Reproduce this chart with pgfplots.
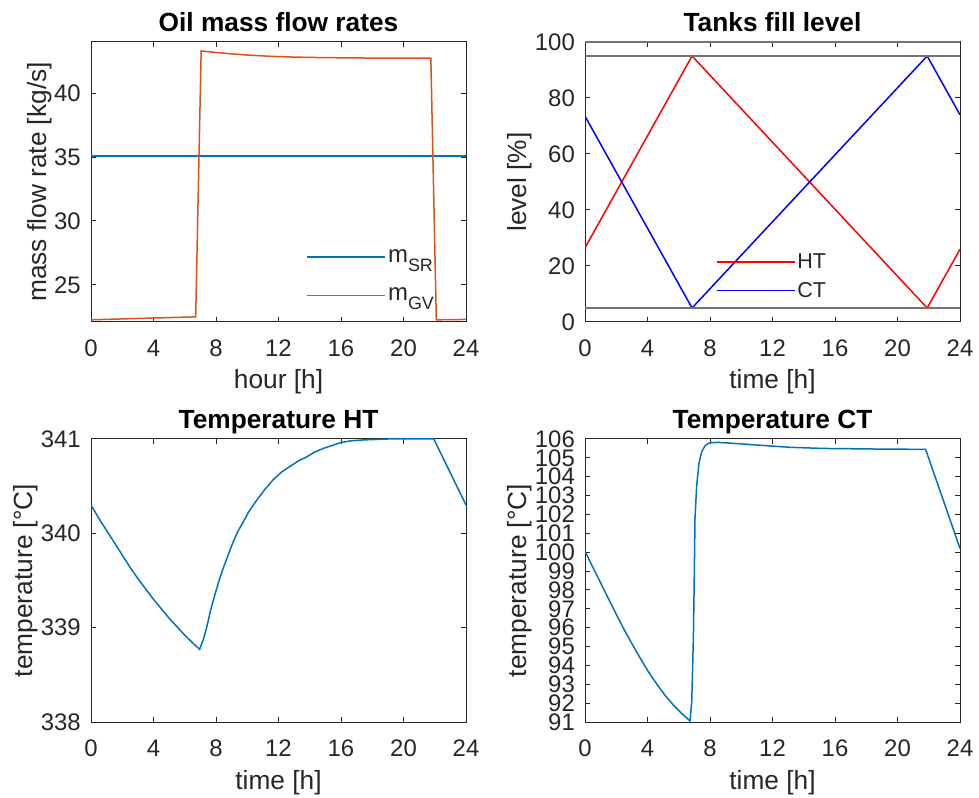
\documentclass[border=0pt]{standalone}
\usepackage{fontspec}
\setmainfont{Liberation Sans}
\usepackage{pgfplots}
\pgfplotsset{compat=1.18}
\definecolor{mblue}{rgb}{0,0.447,0.741}
\definecolor{morange}{rgb}{0.85,0.325,0.098}
\definecolor{axgray}{rgb}{0.15,0.15,0.15}
\definecolor{limgray}{rgb}{0.45,0.45,0.45}
\pgfplotsset{
  mstyle/.style={
    scale only axis,
    xmin=0, xmax=24, xtick={0,4,...,24},
    tick align=inside,
    major tick length=5bp,
    axis line style={axgray, line width=1bp},
    every tick/.style={axgray, line width=1bp},
    tick label style={font=\fontsize{24}{24}\selectfont, text=axgray},
    /pgf/number format/assume math mode=true,
    xticklabel style={anchor=north, inner sep=0pt, yshift=-18bp},
    yticklabel style={anchor=east, inner sep=0pt, xshift=-10bp},
    every axis x label/.style={at={(axis description cs:0.5,-0.237)}, anchor=base, font=\fontsize{26.4}{26.4}\selectfont, text=axgray},
    every axis title/.style={at={(axis description cs:0.5,1.037)}, anchor=base, font=\bfseries\fontsize{26.4}{26.4}\selectfont, text=black},
    legend style={draw=none, fill=none, font=\fontsize{21.6}{21.6}\selectfont, text=axgray, inner sep=0pt, outer sep=0pt},
    legend cell align=left,
    legend image code/.code={\draw[#1, line width=1.5bp] (0bp,0bp) -- (78bp,0bp);},
    every axis plot/.append style={line width=1.5bp},
  },
  ylab/.style={every axis y label/.style={at={(axis description cs:#1,0.5)}, rotate=90, anchor=base, font=\fontsize{26.4}{26.4}\selectfont, text=axgray}},
}
\newcommand{\sub}[1]{\raisebox{-9bp}{\fontsize{18}{18}\selectfont #1}}
\begin{document}
\begin{tikzpicture}
\path[use as bounding box] (0bp,0bp) rectangle (979bp,798bp);

% Top-left
\begin{axis}[mstyle, at={(91bp,476bp)}, anchor=south west, width=375bp, height=280bp,
  ymin=22.1, ymax=44, ytick={25,30,35,40},
  title={Oil mass flow rates}, xlabel={hour [h]}, ylabel={mass flow rate [kg/s]}, ylab=-0.118,
  legend style={at={(axis description cs:0.575,0.265)}, anchor=north west, row sep=20bp, font=\fontsize{24}{24}\selectfont}]
\addplot[mblue, no markers] coordinates {(0,35.1) (24,35.1)};
\addlegendentry{m\sub{SR}}
\addplot[morange, no markers] coordinates {
(0,22.27) (2,22.34) (4,22.41) (6.7,22.5) (7.05,43.3) (8,43.18) (9,43.07) (10,42.98)
(11.5,42.88) (13,42.82) (14.7,42.78) (17,42.75) (21.75,42.73) (22.1,22.27) (24,22.3)};
\addlegendentry{m\sub{GV}}
\end{axis}

% Top-right
\begin{axis}[mstyle, at={(585bp,476bp)}, anchor=south west, width=375bp, height=280bp,
  ymin=0, ymax=100, ytick={0,20,...,100},
  title={Tanks fill level}, xlabel={time [h]}, ylabel={level [\%]}, ylab=-0.157,
  legend style={at={(axis description cs:0.349,0.25)}, anchor=north west, row sep=8bp}]
\addplot[red, no markers] coordinates {(0,26.5) (6.85,95) (21.9,5) (24,26)};
\addlegendentry{HT}
\addplot[blue, no markers] coordinates {(0,73.5) (6.85,5) (21.9,95) (24,74)};
\addlegendentry{CT}
\addplot[limgray, no markers, forget plot] coordinates {(0,5) (24,5)};
\addplot[limgray, no markers, forget plot] coordinates {(0,95) (24,95)};
\addplot[limgray, no markers, forget plot] coordinates {(0,100) (24,100)};
\end{axis}

% Bottom-left
\begin{axis}[mstyle, at={(91bp,76bp)}, anchor=south west, width=375bp, height=283bp,
  ymin=338, ymax=341, ytick={338,339,340,341},
  title={Temperature HT}, xlabel={time [h]}, ylabel={temperature [°C]}, ylab=-0.157]
\addplot[mblue, no markers] coordinates {
(0,340.30) (0.5,340.16) (1,340.03) (1.5,339.90) (2,339.77) (2.5,339.64) (3,339.52) (3.5,339.41)
(4,339.30) (4.5,339.20) (5,339.10) (5.5,339.01) (6,338.92) (6.5,338.84) (6.95,338.77)
(7.2,338.88) (7.4,339.00) (7.65,339.18) (7.93,339.35) (8.2,339.50) (8.46,339.63) (8.8,339.78)
(9.1,339.91) (9.4,340.02) (9.74,340.12) (10.1,340.23) (10.6,340.35) (11.1,340.46)
(11.67,340.57) (12.2,340.65) (12.74,340.71) (13.3,340.77) (13.8,340.81) (14.3,340.86)
(14.87,340.90) (15.4,340.93) (15.94,340.96) (16.6,340.98) (17.4,340.99)
(19,341.0) (21.94,341.0) (24,340.30)};
\end{axis}

% Bottom-right
\begin{axis}[mstyle, at={(585bp,76bp)}, anchor=south west, width=375bp, height=283bp,
  ymin=91, ymax=106, ytick={91,92,...,106},
  title={Temperature CT}, xlabel={time [h]}, ylabel={temperature [°C]}, ylab=-0.157]
\addplot[mblue, no markers] coordinates {
(0,100.06) (0.43,99.32) (0.86,98.61) (1.4,97.70) (1.92,96.84) (2.45,95.98) (2.99,95.17)
(3.5,94.43) (4.06,93.66) (4.6,93.00) (5.12,92.42) (5.65,91.90) (6.19,91.45) (6.5,91.22)
(6.72,91.05) (6.83,92.07) (6.94,95.6) (7.0,99.16) (7.04,101.8) (7.15,103.56) (7.3,104.75)
(7.47,105.33) (7.6,105.52) (7.7,105.65) (7.85,105.75) (8.0,105.8) (8.5,105.82) (9.5,105.77)
(11,105.68) (13.1,105.56) (15.2,105.5) (18.4,105.47) (21.8,105.45) (24,100.2)};
\end{axis}
\end{tikzpicture}
\end{document}
